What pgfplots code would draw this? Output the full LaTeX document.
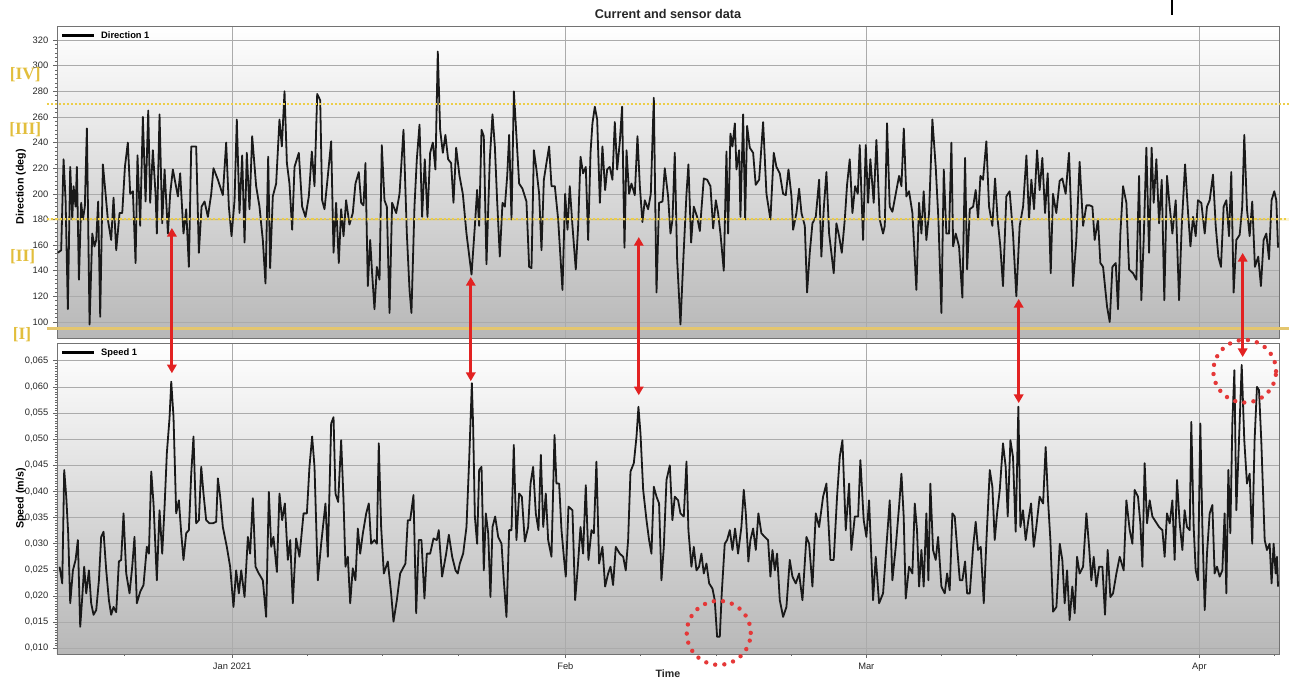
\documentclass[border=0pt]{standalone}
\usepackage{pgfplots}
\usepackage{pgfplotstable}
\pgfplotsset{compat=1.18}
\usetikzlibrary{arrows.meta}
\usepackage{fontspec}
\setmainfont{Liberation Sans}
\newfontfamily\goldfont{Liberation Serif}
\definecolor{goldtxt}{RGB}{226,190,60}
\definecolor{yline}{RGB}{236,206,72}
\definecolor{bline}{RGB}{228,198,110}
\definecolor{arrred}{RGB}{226,34,34}

\pgfplotstableread{
x y
-16.22 154
-15.91 156
-15.69 227
-15.50 195
-15.29 110
-15.07 221
-14.88 180
-14.76 206
-14.57 190
-14.45 221
-14.26 133
-14.05 193
-13.89 180
-13.71 190
-13.52 251
-13.27 98
-13.02 169
-12.81 159
-12.65 164
-12.47 194
-12.28 104
-12.03 223
-11.78 200
-11.57 180
-11.26 164
-11.04 197
-10.79 156
-10.48 185
-10.23 185
-9.98 221
-9.71 240
-9.49 200
-9.24 202
-8.99 146
-8.81 230
-8.56 175
-8.31 260
-8.06 194
-7.81 265
-7.63 193
-7.38 234
-7.13 200
-7.01 169
-6.76 262
-6.51 177
-6.29 219
-5.98 169
-5.77 200
-5.52 219
-5.05 198
-4.84 216
-4.53 169
-4.28 188
-4.03 143
-3.81 237
-3.35 237
-3.10 154
-2.85 190
-2.57 194
-2.26 182
-1.95 200
-1.74 220
-1.33 211
-0.87 199
-0.56 240
-0.31 190
-0.06 167
0.22 195
0.43 258
0.68 185
0.93 230
1.15 162
1.36 232
1.61 188
1.86 245
2.23 206
2.54 190
2.85 164
3.10 130
3.35 229
3.53 142
3.78 198
4.09 208
4.40 258
4.62 237
4.87 280
5.09 224
5.33 208
5.58 172
5.80 221
6.20 232
6.51 190
6.82 182
7.13 198
7.41 233
7.66 206
7.91 278
8.19 273
8.37 195
8.59 188
8.90 214
9.21 241
9.43 154
9.67 193
9.92 146
10.14 188
10.36 167
10.60 195
10.91 176
11.22 185
11.47 208
11.78 217
12.00 193
12.22 191
12.40 224
12.62 128
12.84 164
13.02 138
13.24 110
13.46 143
13.71 133
13.92 238
14.17 195
14.39 190
14.64 107
14.88 193
15.26 185
15.57 200
15.94 250
16.25 169
16.50 125
16.68 107
16.96 190
17.18 227
17.43 254
17.67 182
17.92 227
18.17 182
18.42 232
18.67 240
18.91 219
19.13 311
19.35 250
19.60 232
19.84 246
20.09 227
20.37 224
20.59 193
20.84 236
21.15 214
21.46 200
21.80 169
22.27 137
22.58 175
22.79 203
22.98 175
23.20 250
23.41 245
23.66 145
23.97 227
24.22 262
24.44 237
24.65 195
24.90 151
25.15 193
25.37 190
25.59 214
25.77 246
25.99 180
26.21 280
26.45 245
26.70 208
27.01 204
27.38 194
27.63 143
27.85 142
28.07 234
28.31 219
28.56 200
28.78 156
29.00 211
29.24 224
29.49 237
29.71 206
30.02 206
30.33 180
30.73 125
30.98 200
31.20 172
31.41 206
31.66 175
31.97 141
32.19 175
32.41 229
32.65 216
32.90 221
33.12 164
33.34 232
33.52 255
33.74 268
33.96 258
34.21 193
34.45 237
34.70 203
34.89 219
35.13 221
35.38 211
35.60 256
35.82 219
36.06 240
36.28 268
36.50 158
36.69 234
36.93 200
37.15 208
37.46 199
37.71 245
37.93 206
38.17 178
38.39 195
38.70 188
38.95 200
39.23 275
39.48 123
39.72 193
40.04 194
40.25 220
40.56 198
40.78 169
40.97 180
41.18 232
41.40 149
41.71 98
41.96 146
42.27 200
42.45 223
42.70 162
42.95 190
43.26 182
43.51 171
43.88 212
44.19 211
44.50 206
44.75 173
45.00 195
45.21 185
45.43 169
45.74 140
45.99 233
46.14 169
46.36 247
46.55 237
46.77 255
46.92 219
47.17 234
47.29 182
47.54 262
47.73 180
47.91 253
48.16 236
48.47 232
48.71 207
49.03 211
49.40 256
49.71 200
50.08 180
50.39 232
50.64 221
50.95 216
51.26 200
51.51 199
51.76 219
52.04 198
52.19 172
52.50 185
52.75 204
52.97 185
53.28 175
53.49 123
53.74 154
53.99 177
54.30 182
54.61 211
54.82 151
55.04 188
55.29 217
55.54 169
55.75 154
55.97 138
56.22 177
56.47 167
56.72 154
57.00 180
57.21 207
57.46 227
57.71 185
57.96 206
58.21 200
58.39 238
58.70 164
58.95 238
59.17 193
59.38 227
59.69 193
59.94 242
60.25 180
60.56 169
60.72 175
60.93 255
61.18 190
61.43 186
61.74 200
62.05 214
62.27 206
62.49 251
62.73 198
62.98 202
63.29 185
63.66 125
63.91 193
64.13 169
64.34 202
64.59 164
64.84 185
65.15 258
65.46 221
65.71 180
65.99 107
66.21 219
66.45 169
66.70 169
66.92 240
67.08 159
67.32 169
67.63 159
67.94 119
68.19 228
68.38 141
68.63 188
68.94 190
69.18 203
69.40 180
69.62 214
69.86 211
70.17 241
70.42 190
70.73 175
70.98 212
71.22 180
71.47 159
71.72 128
72.03 198
72.34 202
72.65 169
72.96 120
73.27 175
73.59 190
73.90 230
74.14 180
74.36 211
74.61 188
74.89 234
75.13 203
75.38 228
75.63 185
75.88 216
76.16 138
76.37 200
76.68 185
76.99 210
77.24 212
77.55 200
77.86 232
78.08 180
78.23 128
78.54 164
78.85 225
79.17 175
79.48 191
79.79 191
80.04 190
80.25 164
80.56 180
80.78 146
81.03 143
81.40 112
81.65 100
81.90 143
82.21 146
82.42 110
82.64 169
82.89 206
83.20 193
83.45 141
83.82 138
84.13 133
84.38 214
84.59 117
84.81 164
85.06 236
85.31 154
85.55 236
85.74 193
85.99 227
86.24 177
86.49 211
86.73 117
86.98 214
87.23 190
87.48 169
87.79 195
88.10 117
88.35 175
88.66 223
88.94 185
89.16 159
89.40 182
89.65 167
89.86 195
90.17 193
90.49 169
90.70 190
90.95 195
91.26 215
91.51 175
91.76 151
92.00 143
92.25 190
92.50 195
92.75 167
92.96 217
93.18 123
93.43 164
93.74 168
93.98 190
94.17 246
94.42 188
94.67 167
94.91 194
95.16 143
95.47 151
95.72 128
95.97 164
96.22 169
96.47 149
96.71 195
96.96 202
97.15 195
97.31 158
}\dirdata

\pgfplotstableread{
x y
-16.06 0.0256
-15.81 0.0224
-15.63 0.0441
-15.44 0.0390
-15.26 0.0320
-15.07 0.0186
-14.82 0.0249
-14.57 0.0269
-14.36 0.0307
-14.14 0.0141
-13.95 0.0198
-13.77 0.0256
-13.58 0.0205
-13.33 0.0249
-13.12 0.0186
-12.90 0.0164
-12.65 0.0173
-12.40 0.0230
-12.19 0.0313
-11.97 0.0323
-11.72 0.0249
-11.47 0.0192
-11.26 0.0164
-11.04 0.0179
-10.79 0.0169
-10.54 0.0266
-10.33 0.0269
-10.11 0.0358
-9.86 0.0243
-9.55 0.0205
-9.30 0.0256
-9.09 0.0313
-8.87 0.0186
-8.56 0.0208
-8.25 0.0221
-7.94 0.0294
-7.75 0.0281
-7.53 0.0438
-7.32 0.0377
-7.01 0.0230
-6.76 0.0364
-6.51 0.0281
-6.29 0.0371
-6.08 0.0473
-5.83 0.0540
-5.67 0.0610
-5.46 0.0543
-5.21 0.0358
-4.96 0.0383
-4.74 0.0320
-4.53 0.0269
-4.28 0.0320
-4.03 0.0326
-3.81 0.0434
-3.60 0.0505
-3.35 0.0339
-3.10 0.0345
-2.88 0.0447
-2.67 0.0396
-2.42 0.0345
-2.11 0.0339
-1.80 0.0339
-1.49 0.0342
-1.33 0.0425
-1.12 0.0390
-0.87 0.0332
-0.50 0.0294
-0.19 0.0256
0.12 0.0179
0.37 0.0249
0.62 0.0205
0.84 0.0249
1.15 0.0198
1.46 0.0313
1.67 0.0281
1.92 0.0387
2.17 0.0256
2.48 0.0243
2.85 0.0230
3.16 0.0160
3.41 0.0399
3.63 0.0294
3.84 0.0313
4.16 0.0246
4.40 0.0396
4.65 0.0345
4.90 0.0377
5.18 0.0269
5.40 0.0307
5.64 0.0186
5.95 0.0310
6.26 0.0275
6.64 0.0358
6.95 0.0358
7.19 0.0447
7.44 0.0505
7.66 0.0447
7.97 0.0230
8.28 0.0300
8.68 0.0377
8.90 0.0275
9.21 0.0530
9.43 0.0542
9.61 0.0396
9.86 0.0380
10.14 0.0498
10.36 0.0383
10.54 0.0256
10.76 0.0275
10.98 0.0186
11.22 0.0253
11.47 0.0230
11.69 0.0329
11.91 0.0281
12.16 0.0320
12.47 0.0358
12.71 0.0377
12.93 0.0300
13.24 0.0307
13.46 0.0300
13.64 0.0492
13.86 0.0332
14.11 0.0243
14.48 0.0266
14.79 0.0205
15.01 0.0151
15.32 0.0192
15.63 0.0243
16.12 0.0262
16.34 0.0345
16.56 0.0345
16.87 0.0393
17.12 0.0167
17.36 0.0307
17.61 0.0307
17.89 0.0195
18.11 0.0281
18.42 0.0281
18.73 0.0310
19.04 0.0307
19.22 0.0326
19.53 0.0237
19.91 0.0281
20.16 0.0317
20.47 0.0275
20.78 0.0249
20.99 0.0243
21.18 0.0262
21.49 0.0281
21.80 0.0332
22.05 0.0460
22.17 0.0530
22.30 0.0607
22.42 0.0524
22.58 0.0352
22.79 0.0300
22.98 0.0441
23.20 0.0447
23.41 0.0249
23.60 0.0358
23.82 0.0320
24.03 0.0198
24.22 0.0332
24.47 0.0352
24.75 0.0313
25.06 0.0300
25.27 0.0230
25.52 0.0160
25.77 0.0326
25.99 0.0326
26.20 0.0489
26.45 0.0307
26.70 0.0396
26.95 0.0390
27.23 0.0304
27.54 0.0332
27.76 0.0415
28.00 0.0447
28.25 0.0358
28.50 0.0326
28.72 0.0470
28.94 0.0332
29.18 0.0396
29.40 0.0307
29.71 0.0275
29.99 0.0508
30.17 0.0415
30.42 0.0415
30.64 0.0326
30.86 0.0275
31.04 0.0237
31.29 0.0371
31.66 0.0364
31.91 0.0192
32.16 0.0256
32.41 0.0332
32.65 0.0281
32.90 0.0412
33.15 0.0269
33.43 0.0326
33.65 0.0320
33.89 0.0457
34.14 0.0262
34.45 0.0294
34.70 0.0218
34.98 0.0243
35.20 0.0256
35.44 0.0221
35.69 0.0294
36.06 0.0281
36.38 0.0275
36.62 0.0249
36.84 0.0307
37.06 0.0438
37.37 0.0454
37.62 0.0505
37.80 0.0562
37.99 0.0511
38.24 0.0403
38.55 0.0345
38.79 0.0307
39.01 0.0281
39.23 0.0409
39.48 0.0390
39.72 0.0377
39.94 0.0230
40.16 0.0294
40.41 0.0422
40.72 0.0450
40.96 0.0345
41.18 0.0390
41.49 0.0383
41.71 0.0358
42.02 0.0352
42.27 0.0457
42.45 0.0326
42.73 0.0256
42.95 0.0294
43.20 0.0249
43.44 0.0256
43.66 0.0281
43.88 0.0243
44.13 0.0262
44.38 0.0224
44.69 0.0214
44.90 0.0192
45.12 0.0122
45.37 0.0122
45.55 0.0205
45.83 0.0300
46.05 0.0307
46.30 0.0326
46.55 0.0288
46.79 0.0329
47.07 0.0281
47.38 0.0332
47.60 0.0403
47.79 0.0358
48.03 0.0266
48.22 0.0307
48.47 0.0329
48.72 0.0288
48.96 0.0358
49.24 0.0320
49.55 0.0313
49.86 0.0307
50.08 0.0237
50.27 0.0288
50.49 0.0249
50.70 0.0281
50.95 0.0192
51.26 0.0160
51.57 0.0179
51.88 0.0269
52.13 0.0237
52.44 0.0224
52.75 0.0243
53.06 0.0192
53.43 0.0313
53.68 0.0300
53.99 0.0218
54.30 0.0358
54.61 0.0332
54.98 0.0390
55.29 0.0415
55.66 0.0269
55.97 0.0269
56.28 0.0390
56.53 0.0466
56.78 0.0498
57.09 0.0326
57.40 0.0415
57.61 0.0288
57.93 0.0352
58.24 0.0352
58.45 0.0460
58.76 0.0345
59.01 0.0313
59.26 0.0383
59.63 0.0192
59.88 0.0275
60.19 0.0186
60.56 0.0205
60.87 0.0294
61.18 0.0383
61.43 0.0230
61.74 0.0294
62.05 0.0371
62.27 0.0434
62.48 0.0352
62.67 0.0195
62.98 0.0256
63.29 0.0243
63.51 0.0377
63.72 0.0326
63.91 0.0218
64.13 0.0288
64.34 0.0218
64.59 0.0358
64.78 0.0230
64.96 0.0415
65.21 0.0288
65.46 0.0269
65.68 0.0313
65.99 0.0218
66.30 0.0205
66.52 0.0243
66.76 0.0211
67.01 0.0358
67.23 0.0352
67.45 0.0294
67.70 0.0230
67.94 0.0230
68.19 0.0266
68.38 0.0205
68.63 0.0205
68.94 0.0294
69.18 0.0342
69.40 0.0288
69.65 0.0294
69.93 0.0186
70.18 0.0307
70.49 0.0441
70.73 0.0409
70.95 0.0307
71.17 0.0358
71.42 0.0403
71.72 0.0492
71.97 0.0447
72.16 0.0352
72.41 0.0498
72.65 0.0466
72.90 0.0323
73.15 0.0562
73.34 0.0332
73.58 0.0364
73.83 0.0307
74.08 0.0345
74.33 0.0377
74.58 0.0294
74.82 0.0332
75.13 0.0390
75.45 0.0377
75.69 0.0485
75.91 0.0383
76.13 0.0307
76.38 0.0170
76.69 0.0179
77.00 0.0300
77.24 0.0269
77.46 0.0186
77.68 0.0249
77.92 0.0154
78.17 0.0218
78.39 0.0167
78.61 0.0275
78.85 0.0243
79.17 0.0256
79.48 0.0358
79.73 0.0294
79.94 0.0230
80.16 0.0275
80.41 0.0218
80.66 0.0256
80.97 0.0256
81.21 0.0164
81.46 0.0288
81.71 0.0198
81.96 0.0205
82.27 0.0243
82.58 0.0275
82.95 0.0249
83.20 0.0383
83.51 0.0326
83.76 0.0300
83.97 0.0403
84.28 0.0390
84.50 0.0339
84.69 0.0256
84.90 0.0454
85.12 0.0339
85.37 0.0383
85.62 0.0352
85.93 0.0342
86.24 0.0332
86.55 0.0326
86.76 0.0275
86.98 0.0358
87.23 0.0339
87.48 0.0383
87.69 0.0269
87.91 0.0422
88.16 0.0339
88.41 0.0288
88.62 0.0364
88.84 0.0332
89.09 0.0326
89.24 0.0533
89.46 0.0332
89.65 0.0249
89.86 0.0230
90.08 0.0530
90.27 0.0332
90.49 0.0173
90.70 0.0281
90.95 0.0358
91.20 0.0374
91.41 0.0243
91.63 0.0256
91.88 0.0237
92.13 0.0249
92.34 0.0358
92.50 0.0205
92.69 0.0441
92.87 0.0320
93.06 0.0530
93.25 0.0632
93.43 0.0364
93.68 0.0498
93.93 0.0642
94.17 0.0498
94.42 0.0415
94.67 0.0434
94.91 0.0300
95.13 0.0498
95.35 0.0600
95.54 0.0594
95.75 0.0498
96.07 0.0307
96.28 0.0288
96.53 0.0300
96.71 0.0224
96.90 0.0300
97.09 0.0243
97.21 0.0275
97.31 0.0218
}\spddata

\pgfplotsset{
  panel/.style={
    scale only axis, width=916.5pt,
    xmin=-16.3, xmax=97.4,
    clip=false,
    axis background/.style={top color=white, bottom color=black!28},
    axis line style={black!55, line width=0.6pt},
    grid=major,
    major grid style={black!33, line width=0.5pt},
    tick label style={font=\fontsize{7}{8}\selectfont, text=black!85},
    /pgf/number format/assume math mode=true,
    xtick={0,31,59,90},
    tick align=outside,
    major tick length=3pt, minor tick length=1.6pt,
    every tick/.style={black!60, line width=0.4pt},
    ytick pos=left,
    xtick pos=bottom,
    scaled y ticks=false,
    ylabel style={font=\bfseries\fontsize{8}{9}\selectfont, anchor=center},
    legend style={draw=none, fill=none, at={(0.003,0.992)}, anchor=north west,
      font=\bfseries\fontsize{7}{8}\selectfont, inner sep=0pt,
      /tikz/every odd column/.append style={column sep=2pt}},
    legend image code/.code={\draw[line width=2.2pt,black] (0pt,0pt) -- (24pt,0pt);},
  },
  trace/.style={black!90, line width=1.35pt, line join=round, no markers},
}

\begin{document}
\begin{tikzpicture}
\useasboundingbox (0,0) rectangle (966.75pt,510pt);

% ---------------- Direction panel ----------------
\begin{axis}[panel,
  at={(42.75pt,256.5pt)}, anchor=south west, height=234pt,
  ymin=87.5, ymax=331,
  ytick={100,120,140,160,180,200,220,240,260,280,300,320},
  minor y tick num=5,
  xticklabels={}, xtick style={draw=none},
  ylabel={Direction (deg)},
  ylabel style={at={(axis description cs:-0.0295,0.485)}},
]
\addplot[trace] table {\dirdata};
\addlegendentry{Direction 1}
\draw[yline, line width=1.5pt, dash pattern=on 1.4pt off 1.6pt] (axis cs:-17.24,270) -- (axis cs:98.3,270);
\draw[yline, opacity=0.22, line width=2pt] (axis cs:-17.24,180) -- (axis cs:98.3,180);
\draw[yline, line width=1.5pt, dash pattern=on 1.6pt off 1.6pt] (axis cs:-17.24,180) -- (axis cs:98.3,180);
\draw[bline, line width=2.3pt] (axis cs:-17.24,95) -- (axis cs:98.3,95);
\coordinate (a1t) at (axis cs:-5.61,173.4);
\coordinate (a2t) at (axis cs:22.20,135.1);
\coordinate (a3t) at (axis cs:37.83,166.3);
\coordinate (a4t) at (axis cs:73.18,118);
\coordinate (a5t) at (axis cs:94.02,153.9);
\end{axis}

% ---------------- Speed panel ----------------
\begin{axis}[panel,
  at={(42.75pt,19.5pt)}, anchor=south west, height=233.25pt,
  ymin=0.0089, ymax=0.0684,
  ytick={0.010,0.015,0.020,0.025,0.030,0.035,0.040,0.045,0.050,0.055,0.060,0.065},
  minor y tick num=9,
  yticklabel style={/pgf/number format/.cd, fixed, fixed zerofill, precision=3, use comma},
  xticklabels={Jan 2021,Feb,Mar,Apr},
  minor xtick={-10,7,14,21,38,45,52,66,73,80,97},
  ylabel={Speed (m/s)},
  ylabel style={at={(axis description cs:-0.0295,0.5)}},
]
\addplot[trace] table {\spddata};
\addlegendentry{Speed 1}
\coordinate (a1b) at (axis cs:-5.61,0.0626);
\coordinate (a2b) at (axis cs:22.20,0.0611);
\coordinate (a3b) at (axis cs:37.83,0.0584);
\coordinate (a4b) at (axis cs:73.18,0.0569);
\coordinate (a5b) at (axis cs:94.02,0.0657);
\coordinate (c1) at (axis cs:45.27,0.01294);
\coordinate (c2) at (axis cs:94.21,0.0630);
\end{axis}

% annotations
\foreach \i in {1,...,5}{
  \draw[arrred, line width=2.2pt, {Triangle[length=6.5pt,width=7pt]}-{Triangle[length=6.5pt,width=7pt]}] (a\i t) -- (a\i b);
}
\draw[arrred!90, line width=3.3pt, line cap=round, dash pattern=on 0pt off 6.9pt] (c1) circle[radius=24pt];
\draw[arrred!90, line width=3.3pt, line cap=round, dash pattern=on 0pt off 6.9pt] (c2) circle[radius=23.5pt];

% titles and labels
\node[font=\bfseries\fontsize{9.5}{11}\selectfont, text=black!85] at (501pt,499.5pt) {Current and sensor data};
\node[font=\bfseries\fontsize{8}{9}\selectfont, text=black!85] at (501pt,4.6pt) {Time};
\draw[black, line width=0.8pt] (879pt,510pt) -- (879pt,499pt);

\node[text=goldtxt, font=\goldfont\bfseries\fontsize{13}{15}\selectfont] at (19pt,453.75pt) {[IV]};
\node[text=goldtxt, font=\goldfont\bfseries\fontsize{13}{15}\selectfont] at (19pt,412.5pt) {[III]};
\node[text=goldtxt, font=\goldfont\bfseries\fontsize{13}{15}\selectfont] at (17pt,317.25pt) {[II]};
\node[text=goldtxt, font=\goldfont\bfseries\fontsize{13}{15}\selectfont] at (16.5pt,258.75pt) {[I]};
\end{tikzpicture}
\end{document}
